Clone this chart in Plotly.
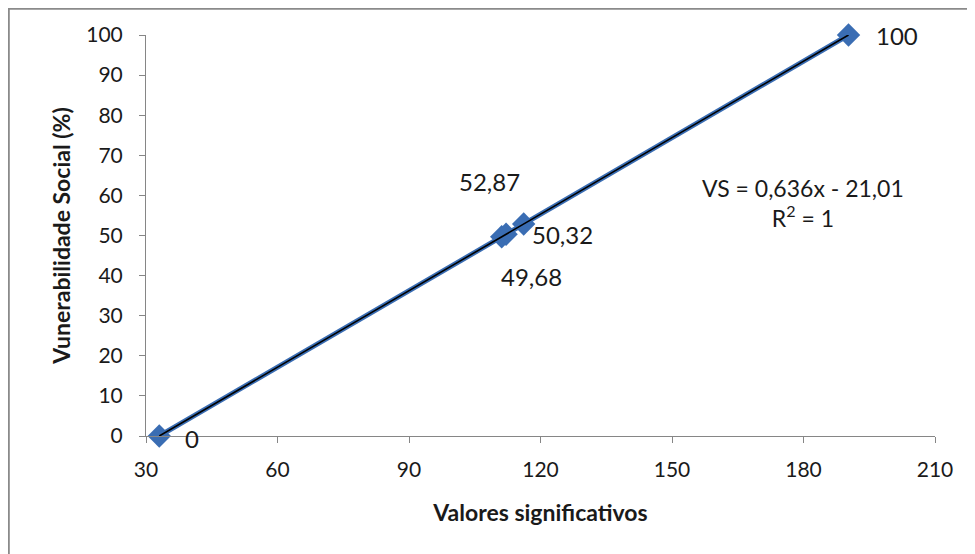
import plotly.graph_objects as go

# Data
valores = [33.03, 111.15, 112.15, 116.16, 190.27]
vs = [0, 49.68, 50.32, 52.87, 100]
labels = ["0", "49,68", "50,32", "52,87", "100"]
slope = 0.636
intercept = -21.01
trend_x = [valores[0], valores[-1]]
trend_y = [slope * x + intercept for x in trend_x]

FONT = "Lato"
BLUE = "#3A6DB3"
TXT = "#1a1a1a"

fig = go.Figure()
fig.add_trace(go.Scatter(
    x=valores, y=vs, mode="lines+markers",
    line=dict(color=BLUE, width=5),
    marker=dict(symbol="diamond", size=18, color=BLUE),
    cliponaxis=False, showlegend=False,
))
fig.add_trace(go.Scatter(
    x=trend_x, y=trend_y, mode="lines",
    line=dict(color="#000000", width=1.6),
    cliponaxis=False, showlegend=False,
))

# label offsets (pixels) per point
offsets = {
    "0": (24, -2, "left"),
    "49,68": (30, -40, "center"),
    "50,32": (24, 0, "left"),
    "52,87": (-34, 42, "center"),
    "100": (25, 0, "left"),
}
annotations = []
for x, y, t in zip(valores, vs, labels):
    dx, dy, anc = offsets[t]
    annotations.append(dict(
        x=x, y=y, text=t, showarrow=False, xanchor=anc, yanchor="middle",
        xshift=dx, yshift=dy, font=dict(family=FONT, size=24, color=TXT),
    ))

annotations.append(dict(
    xref="paper", yref="paper", x=0.833, y=0.58,
    text="VS = 0,636x - 21,01<br>R<sup>2</sup> = 1", showarrow=False,
    align="center", xanchor="center", yanchor="middle",
    font=dict(family=FONT, size=23, color=TXT),
))

axis_common = dict(
    showgrid=False, zeroline=False, showline=True, linecolor="#868686",
    linewidth=1, ticks="outside", ticklen=6, tickcolor="#868686",
    tickfont=dict(family=FONT, size=21, color=TXT),
)

fig.update_layout(
    width=975, height=554,
    margin=dict(l=138, r=48, t=27, b=126),
    paper_bgcolor="white", plot_bgcolor="white",
    annotations=annotations,
    xaxis=dict(range=[30, 210], dtick=30, tick0=30, ticklabelstandoff=9,
               title=dict(text="<b>Valores significativos</b>", standoff=24,
                          font=dict(family=FONT, size=23, color=TXT)),
               **axis_common),
    yaxis=dict(range=[0, 100], dtick=10, tick0=0, ticklabelstandoff=12,
               title=dict(text="<b>Vunerabilidade Social (%)</b>", standoff=9,
                          font=dict(family=FONT, size=23, color=TXT)),
               **axis_common),
    shapes=[dict(type="rect", xref="paper", yref="paper",
                 x0=-138 / 789 + 0.001, x1=1.3, y0=-0.6, y1=1 + 27 / 401 - 0.002,
                 line=dict(color="#8a8a8a", width=2), layer="below")],
)

fig.write_html("out.html")
